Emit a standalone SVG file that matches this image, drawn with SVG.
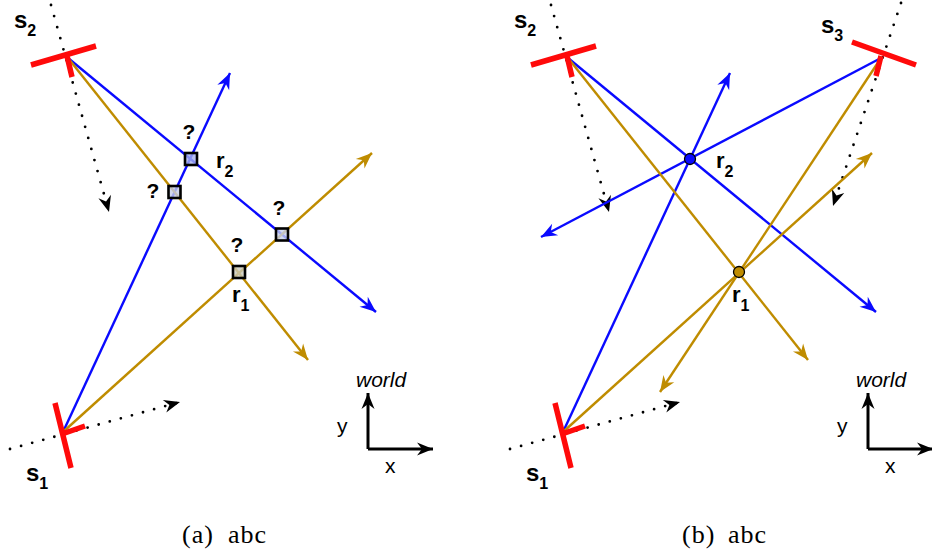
<svg xmlns="http://www.w3.org/2000/svg" width="932" height="553" viewBox="0 0 932 553">
<style>
.blue{stroke:#0a0aff;stroke-width:2.4;fill:none}
.gold{stroke:#bf8c00;stroke-width:2.4;fill:none}
.dot{stroke:#000;stroke-width:2.8;stroke-linecap:round;stroke-dasharray:0 11.5;fill:none}
.sensor{stroke:#ff0a0a;stroke-width:5.5;stroke-linecap:butt;fill:none}
.axis{stroke:#000;stroke-width:3;fill:none}
.box{stroke:#000;stroke-width:2.6;fill-opacity:0.8}
.pt{stroke:#000;stroke-width:1.3}
.lbl{font-family:"Liberation Sans",Arial,sans-serif;font-weight:bold;fill:#000}
.q{font-family:"Liberation Sans",Arial,sans-serif;font-weight:bold;font-size:21px;text-anchor:middle;fill:#000}
.wl{font-family:"Liberation Sans",Arial,sans-serif;font-size:21px;fill:#000}
.cap{font-family:"Liberation Serif","Times New Roman",serif;font-size:26px;letter-spacing:1px;fill:#000}
</style>
<defs>
<marker id="ab" markerUnits="userSpaceOnUse" viewBox="-17 -8 19 16" refX="0" refY="0" markerWidth="19" markerHeight="16" orient="auto"><path d="M0,0 L-16,-6.5 L-11,0 L-16,6.5 Z" fill="#0a0aff"/></marker>
<marker id="ag" markerUnits="userSpaceOnUse" viewBox="-17 -8 19 16" refX="0" refY="0" markerWidth="19" markerHeight="16" orient="auto"><path d="M0,0 L-16,-6.5 L-11,0 L-16,6.5 Z" fill="#bf8c00"/></marker>
<marker id="ak" markerUnits="userSpaceOnUse" viewBox="-17 -8 19 16" refX="0" refY="0" markerWidth="19" markerHeight="16" orient="auto"><path d="M0,0 L-16,-6.5 L-11,0 L-16,6.5 Z" fill="#000"/></marker>
</defs>
<rect width="932" height="553" fill="#fff"/>

<g id="connectors">
  <g id="dotted">
    <path class="dot" d="M51,5 L109,212" marker-end="url(#ak)"/>
    <path class="dot" d="M10,449 L180,402" marker-end="url(#ak)"/>
    <path class="dot" d="M551,5 L609,212" marker-end="url(#ak)"/>
    <path class="dot" d="M510,449 L680,402" marker-end="url(#ak)"/>
    <path class="dot" d="M901,3 L833,206" marker-end="url(#ak)"/>
  </g>
  <g id="rays-a">
    <path class="blue" d="M68,58 L376,312" marker-end="url(#ab)"/>
    <path class="blue" d="M63,432 L230,73" marker-end="url(#ab)"/>
    <path class="gold" d="M68,58 L308,360" marker-end="url(#ag)"/>
    <path class="gold" d="M63,432 L372,153" marker-end="url(#ag)"/>
  </g>
  <g id="rays-b">
    <path class="blue" d="M568,58 L876,312" marker-end="url(#ab)"/>
    <path class="blue" d="M563,432 L730,73" marker-end="url(#ab)"/>
    <path class="blue" d="M881,58 L541,237" marker-end="url(#ab)"/>
    <path class="gold" d="M568,58 L808,360" marker-end="url(#ag)"/>
    <path class="gold" d="M563,432 L872,153" marker-end="url(#ag)"/>
    <path class="gold" d="M881,58 L660,392" marker-end="url(#ag)"/>
  </g>
  <g id="axes">
    <path class="axis" d="M368,449 L368,393" marker-end="url(#ak)"/>
    <path class="axis" d="M368,449 L433,449" marker-end="url(#ak)"/>
    <path class="axis" d="M868,449 L868,393" marker-end="url(#ak)"/>
    <path class="axis" d="M868,449 L933,449" marker-end="url(#ak)"/>
  </g>
</g>

<g id="a-s2"><path class="sensor" d="M31,65 L96,46 M67,56 L72,77"/><text class="lbl" x="14" y="28" font-size="24">s<tspan font-size="16" dy="8">2</tspan></text></g>
<g id="a-s1"><path class="sensor" d="M55,403 L71,468 M62,434 L85,426"/><text class="lbl" x="26" y="481" font-size="24">s<tspan font-size="16" dy="8">1</tspan></text></g>
<g id="a-r2"><rect class="box" x="185" y="153" width="12" height="12" fill="#a6b1ee"/><text class="q" x="189" y="139">?</text><text class="lbl" x="216" y="168" font-size="22">r<tspan font-size="16" dy="9">2</tspan></text></g>
<g id="a-q1"><rect class="box" x="168.5" y="186" width="12" height="12" fill="#c4cce6"/><text class="q" x="153" y="198">?</text></g>
<g id="a-r1"><rect class="box" x="233" y="266" width="12" height="12" fill="#c8c8ba"/><text class="q" x="237" y="252">?</text><text class="lbl" x="232" y="302" font-size="22">r<tspan font-size="16" dy="9">1</tspan></text></g>
<g id="a-q2"><rect class="box" x="276" y="228.5" width="12" height="12" fill="#c6d0ec"/><text class="q" x="279" y="215">?</text></g>
<g id="a-world"><text class="wl" x="356" y="387" font-style="italic">world</text><text class="wl" x="337" y="433">y</text><text class="wl" x="385" y="473">x</text></g>

<g id="b-s2"><path class="sensor" d="M531,65 L596,46 M567,56 L572,77"/><text class="lbl" x="514" y="28" font-size="24">s<tspan font-size="16" dy="8">2</tspan></text></g>
<g id="b-s1"><path class="sensor" d="M555,403 L571,468 M562,434 L585,426"/><text class="lbl" x="526" y="481" font-size="24">s<tspan font-size="16" dy="8">1</tspan></text></g>
<g id="b-s3"><path class="sensor" d="M852,42 L916,65 M881,56 L876,76"/><text class="lbl" x="821" y="33" font-size="24">s<tspan font-size="16" dy="8">3</tspan></text></g>
<g id="b-r2"><circle class="pt" cx="690" cy="159" r="5.5" fill="#0a0aff"/><text class="lbl" x="716" y="168" font-size="22">r<tspan font-size="16" dy="9">2</tspan></text></g>
<g id="b-r1"><circle class="pt" cx="739" cy="272" r="5.5" fill="#bf8c00"/><text class="lbl" x="732" y="302" font-size="22">r<tspan font-size="16" dy="9">1</tspan></text></g>
<g id="b-world"><text class="wl" x="856" y="387" font-style="italic">world</text><text class="wl" x="837" y="433">y</text><text class="wl" x="885" y="473">x</text></g>

<g id="captions">
  <text class="cap" x="182" y="543">(a) <tspan x="228">abc</tspan></text>
  <text class="cap" x="682" y="543">(b) <tspan x="728">abc</tspan></text>
</g>
</svg>
